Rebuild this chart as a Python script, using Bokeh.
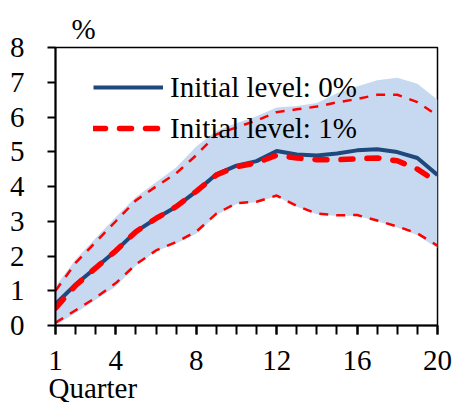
from bokeh.plotting import figure
from bokeh.models import FixedTicker, Range1d, Legend, LegendItem, Title
from bokeh.embed import file_html
from bokeh.resources import INLINE

quarters = list(range(1, 21))

# Initial level 0%: central path and band
central_0 = [0.62, 1.18, 1.66, 2.15, 2.70, 3.08, 3.42, 3.86, 4.35, 4.60,
             4.73, 5.02, 4.92, 4.89, 4.95, 5.04, 5.07, 4.99, 4.82, 4.33]
band_upper_0 = [1.12, 1.90, 2.52, 3.12, 3.70, 4.12, 4.55, 5.15, 5.60, 5.82,
                6.02, 6.27, 6.32, 6.40, 6.68, 6.88, 7.06, 7.13, 6.96, 6.50]
band_lower_0 = [0.00, 0.36, 0.74, 1.12, 1.72, 2.14, 2.36, 2.64, 3.17, 3.50,
                3.55, 3.72, 3.42, 3.20, 3.15, 3.16, 3.00, 2.82, 2.60, 2.22]

# Initial level 1%: central path and bounds
central_1 = [0.50, 1.15, 1.66, 2.15, 2.70, 3.08, 3.42, 3.86, 4.33, 4.57,
             4.68, 4.90, 4.82, 4.77, 4.77, 4.80, 4.82, 4.74, 4.50, 4.12]
upper_1 = [1.00, 1.80, 2.40, 3.00, 3.60, 4.00, 4.38, 4.90, 5.50, 5.70,
           5.90, 6.14, 6.22, 6.30, 6.42, 6.52, 6.64, 6.64, 6.43, 6.04]
lower_1 = [0.08, 0.44, 0.80, 1.22, 1.76, 2.16, 2.40, 2.70, 3.22, 3.52,
           3.56, 3.74, 3.44, 3.22, 3.17, 3.18, 3.02, 2.85, 2.65, 2.30]

x_major_ticks = [1, 4, 8, 12, 16, 20]
y_ticks = list(range(0, 9))
legend_labels = ["Initial level: 0%", "Initial level: 1%"]
x_title = "Quarter"
y_unit = "%"

FONT = "Liberation Serif"
BLUE = "#1F497D"
RED = "#FF0000"
BAND = "#C6D9F0"

p = figure(width=454, height=402, output_backend="svg", toolbar_location=None,
           x_range=Range1d(1, 20), y_range=Range1d(0, 8))
p.min_border_left = 55
p.min_border_right = 17
p.min_border_top = 47
p.min_border_bottom = 77
p.xgrid.visible = False
p.ygrid.visible = False
p.outline_line_color = "black"
p.outline_line_width = 1.5
p.background_fill_color = "white"
p.border_fill_color = "white"

p.varea(x=quarters, y1=band_lower_0, y2=band_upper_0, fill_color=BAND)
p.line(quarters, upper_1, line_color=RED, line_width=2.5, line_dash="9 8")
p.line(quarters, lower_1, line_color=RED, line_width=2.5, line_dash="9 8")
r0 = p.line(quarters, central_0, line_color=BLUE, line_width=4)
r1 = p.line(quarters, central_1, line_color=RED, line_width=5.5,
            line_dash="12 14", line_cap="round")

for ax in (p.xaxis[0], p.yaxis[0]):
    ax.axis_line_color = "black"
    ax.axis_line_width = 2
    ax.major_tick_line_color = "black"
    ax.major_tick_line_width = 2
    ax.major_tick_in = 0
    ax.major_label_text_font = FONT
    ax.major_label_text_font_size = "29px"
    ax.major_label_text_color = "black"

xa = p.xaxis[0]
xa.ticker = FixedTicker(ticks=x_major_ticks, minor_ticks=quarters)
xa.major_tick_out = 9
xa.minor_tick_out = 9
xa.minor_tick_in = 0
xa.minor_tick_line_color = "black"
xa.minor_tick_line_width = 2
xa.major_label_standoff = 16

ya = p.yaxis[0]
ya.ticker = FixedTicker(ticks=y_ticks, minor_ticks=[])
ya.major_tick_out = 8
ya.minor_tick_out = 0
ya.minor_tick_in = 0
ya.major_label_standoff = 23

p.title = Title(text=y_unit, align="left", offset=16, standoff=6,
                text_font=FONT, text_font_size="29px",
                text_font_style="normal", text_color="black")

p.add_layout(Title(text=x_title, align="left", offset=-7, standoff=-6,
                   text_font=FONT, text_font_size="29px",
                   text_font_style="normal", text_color="black"), "below")

legend = Legend(items=[LegendItem(label=legend_labels[0], renderers=[r0]),
                       LegendItem(label=legend_labels[1], renderers=[r1])],
                location=(38, 179), orientation="vertical")
legend.margin = 0
legend.padding = 0
legend.spacing = 5
legend.glyph_width = 70
legend.glyph_height = 36
legend.label_height = 36
legend.label_standoff = 7
legend.label_text_font = FONT
legend.label_text_font_size = "29px"
legend.label_text_color = "black"
legend.label_text_baseline = "middle"
legend.border_line_color = None
legend.background_fill_alpha = 0
p.add_layout(legend)

open("out.html", "w").write(file_html(p, INLINE))
